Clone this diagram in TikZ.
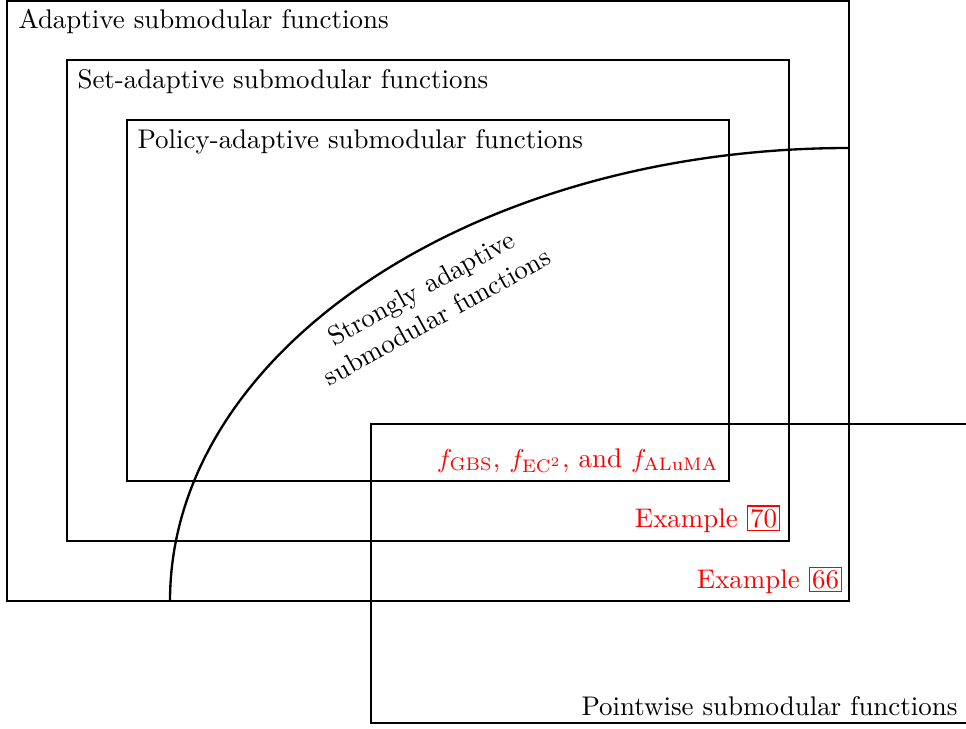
\documentclass[tikz,border=0pt]{standalone}
\usepackage{xcolor}
\usepackage{amsmath,amssymb}
\usepackage{tikz}
\usetikzlibrary{positioning,calc}
\newcommand{\reflink}[1]{{\setlength{\fboxsep}{0.8pt}\setlength{\fboxrule}{0.5pt}\fcolorbox{red}{white}{#1}}}

\begin{document}
\begin{tikzpicture}[
  x=0.01356cm,
  y=-0.01356cm,
  region/.style={line width=1.1pt},
  border/.style={line width=0.9pt},
  title/.style={anchor=north west, inner sep=0pt},
  example/.style={anchor=base east, inner sep=0pt, text=red},
  font=\fontsize{10.4}{12.6}\selectfont
]
\useasboundingbox (0,0) rectangle (966,729);

\draw[region] (7,1) rectangle (849,601);
\draw[region] (67,60) rectangle (789,541);
\draw[region] (127,120) rectangle (729,481);
\draw[region] (968,424) -- (371,424) -- (371,723) -- (968,723);

\draw[border] (170,601) arc[start angle=180, end angle=270, x radius=679, y radius=453];

\node[title] (adaptive) at (18,9) {Adaptive submodular functions};
\node[title] (setadaptive) at (77,69) {Set-adaptive submodular functions};
\node[title] (policy) at (137,129) {Policy-adaptive submodular functions};

\node[rotate=29, align=center] (strong) at (429,302) {Strongly adaptive\\submodular functions};

\node[example] (fexamples) at (719,467) {$f_{\mathrm{GBS}}$, $f_{\mathrm{EC}^2}$, and $f_{\mathrm{ALuMA}}$};
\node[example] (ex70) at (781,527) {Example \reflink{70}};
\node[example] (ex66) at (843,588) {Example \reflink{66}};

\node[anchor=base east, inner sep=0pt] (pointwise) at (958,715) {Pointwise submodular functions};
\end{tikzpicture}
\end{document}
